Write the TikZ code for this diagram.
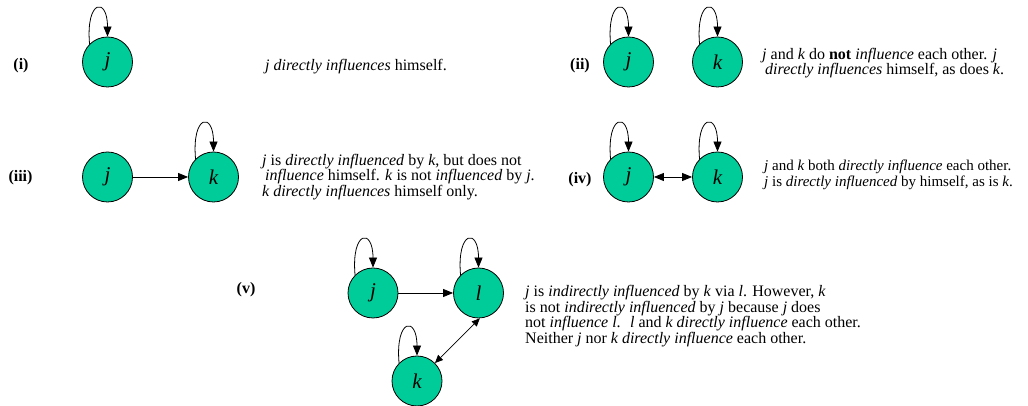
\documentclass[tikz,border=0pt]{standalone}
\usepackage{fontspec}
\setmainfont{Liberation Serif}
\usepackage{xcolor}
\usepackage{tikz}
\usetikzlibrary{arrows.meta, positioning}
\definecolor{agentgreen}{RGB}{0,204,153}
\tikzset{
    agent/.style={circle, minimum size=50pt, inner sep=0pt, draw=black, line width=0.8pt, fill=agentgreen, font=\fontsize{21}{24}\selectfont\itshape},
    arrow/.style={line width=0.8pt, -{Triangle[length=10pt,width=8pt]}},
    twoway/.style={line width=0.8pt, {Triangle[length=10pt,width=8pt]}-{Triangle[length=10pt,width=8pt]}},
    thinway/.style={line width=0.7pt, {Triangle[length=8pt,width=7pt]}-{Triangle[length=8pt,width=7pt]}},
    caselabel/.style={font=\fontsize{16}{16}\selectfont\bfseries},
    remark/.style={anchor=west, align=left, inner sep=0pt, font=\fontsize{16}{15.7}\selectfont}
}
% arrow from a node back onto itself
\newcommand{\selfloop}[1]{\draw [arrow] (#1.135) .. controls +(95:45) and +(90:40) .. (#1.90);}

\begin{document}
\begin{tikzpicture}[x=1pt, y=1pt, node distance=89pt]
    \useasboundingbox (0,0) rectangle (1028,406);

    % (i)
    \node (lab1) [caselabel] at (21,340) {(i)};
    \node (j1) [agent] at (107.5,344) {j};
    \node (txt1) [remark] at (265,339) {\textit{j directly influences} himself.};
    \selfloop{j1}

    % (ii)
    \node (lab2) [caselabel] at (580,340) {(ii)};
    \node (j2) [agent] at (628.5,344) {j};
    \node (k2) [agent, right of=j2] {k};
    \node (txt2) [remark] at (762,343) {\textit{j} and \textit{k} do \textbf{not} \textit{influence} each other. \textit{j}\\
        \hspace*{3pt}\textit{directly influences} himself, as does \textit{k}.};
    \selfloop{j2}
    \selfloop{k2}

    % (iii)
    \node (lab3) [caselabel] at (20.5,228) {(iii)};
    \node (j3) [agent] at (107.5,229) {j};
    \node (k3) [agent, right of=j3, xshift=17pt] {k};
    \node (txt3) [remark] at (262,229) {\textit{j} is \textit{directly influenced} by \textit{k}, but does not\\
        \hspace*{3pt}\textit{influence} himself. \textit{k} is not \textit{influenced} by \textit{j}.\\
        \textit{k directly influences} himself only.};
    \draw [arrow] (j3) -- (k3);
    \selfloop{k3}

    % (iv)
    \node (lab4) [caselabel] at (580,226) {(iv)};
    \node (j4) [agent] at (628.5,229) {j};
    \node (k4) [agent, right of=j4] {k};
    \node (txt4) [remark, font=\fontsize{15}{15.7}\selectfont] at (764,231) {\textit{j} and \textit{k} both \textit{directly influence} each other.\\
        \textit{j} is \textit{directly influenced} by himself, as is \textit{k}.};
    \draw [twoway] (j4) -- (k4);
    \selfloop{j4}
    \selfloop{k4}

    % (v)
    \node (lab5) [caselabel] at (246,116) {(v)};
    \node (j5) [agent] at (373,113) {j};
    \node (l5) [agent, right of=j5, xshift=16.5pt] {l};
    \node (k5) [agent] at (417,25) {k};
    \node (txt5) [remark] at (525,90) {\textit{j} is \textit{indirectly influenced} by \textit{k} via \textit{l}. However, \textit{k}\\
        is not \textit{indirectly influenced} by \textit{j} because \textit{j} does\\
        not \textit{influence l}.~ \textit{l} and \textit{k directly influence} each other.\\
        Neither \textit{j} nor \textit{k directly influence} each other.};
    \draw [arrow] (j5) -- (l5);
    \draw [thinway] (k5.45) -- (l5.-87);
    \selfloop{j5}
    \selfloop{l5}
    \selfloop{k5}
\end{tikzpicture}
\end{document}
